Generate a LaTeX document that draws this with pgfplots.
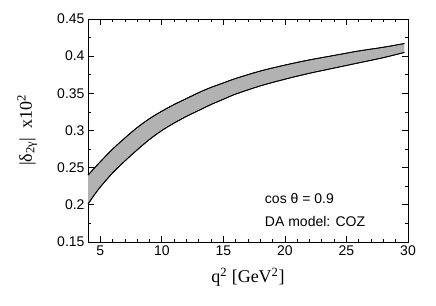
\documentclass[border=0pt]{standalone}
\usepackage{fontspec}
\setmainfont{Liberation Sans}
\newfontfamily\tnr{Liberation Serif}
\usepackage{pgfplots}
\pgfplotsset{compat=1.18}
\usepgfplotslibrary{fillbetween}
\begin{document}
\begin{tikzpicture}
\begin{axis}[
  scale only axis,
  width=320pt, height=223pt,
  xmin=4, xmax=30, ymin=0.15, ymax=0.45,
  xtick={5,10,15,20,25,30},
  ytick={0.15,0.2,0.25,0.3,0.35,0.4,0.45},
  minor x tick num=4,
  minor y tick num=1,
  tick align=inside,
  major tick length=6pt, minor tick length=3pt,
  tick style={black, line width=0.8pt},
  axis line style={line width=0.9pt},
  xticklabel style={/pgf/number format/fixed},
  yticklabel style={/pgf/number format/fixed, /pgf/number format/precision=2},
  /pgf/number format/assume math mode=true,
  tick label style={font=\fontsize{14}{16}\selectfont},
  xlabel={{\tnr q\textsuperscript{2} [GeV\textsuperscript{2}]}},
  ylabel={{\tnr |δ\textsubscript{2γ}|\ \ x10\textsuperscript{2}}},
  label style={font=\fontsize{18}{20}\selectfont},
  xlabel style={at={(rel axis cs:0.5,-0.158)}, anchor=center},
  ylabel style={at={(rel axis cs:-0.19,0.5)}, anchor=center},
  clip=false,
]
\addplot[name path=up, black, line width=0.8pt, smooth] coordinates {
(4,0.240) (5,0.258) (6,0.275) (7,0.290) (8,0.304) (9,0.316) (10,0.326)
(11,0.335) (12,0.343) (13,0.351) (14,0.358) (15,0.364) (16,0.370)
(18,0.380) (20,0.388) (22,0.395) (24,0.401) (26,0.407) (28,0.412) (29.7,0.417)};
\addplot[name path=lo, black, line width=0.8pt, smooth] coordinates {
(4,0.201) (4.5,0.213) (5,0.224) (6,0.243) (7,0.259) (8,0.274) (9,0.288) (10,0.300)
(11,0.310) (12,0.319) (13,0.327) (14,0.335) (15,0.342) (16,0.349) (18,0.360)
(20,0.369) (22,0.377) (24,0.384) (26,0.391) (28,0.398) (29.7,0.405)};
\addplot[fill=black!30, draw=none] fill between[of=up and lo];
\addplot[black, line width=0.8pt, smooth] coordinates {
(4,0.240) (5,0.258) (6,0.275) (7,0.290) (8,0.304) (9,0.316) (10,0.326)
(11,0.335) (12,0.343) (13,0.351) (14,0.358) (15,0.364) (16,0.370)
(18,0.380) (20,0.388) (22,0.395) (24,0.401) (26,0.407) (28,0.412) (29.7,0.417)};
\addplot[black, line width=0.8pt, smooth] coordinates {
(4,0.201) (4.5,0.213) (5,0.224) (6,0.243) (7,0.259) (8,0.274) (9,0.288) (10,0.300)
(11,0.310) (12,0.319) (13,0.327) (14,0.335) (15,0.342) (16,0.349) (18,0.360)
(20,0.369) (22,0.377) (24,0.384) (26,0.391) (28,0.398) (29.7,0.405)};
\node[anchor=west, font=\fontsize{14}{16}\selectfont] at (rel axis cs:0.542,0.193) {cos θ = 0.9};
\node[anchor=west, font=\fontsize{14}{16}\selectfont] at (rel axis cs:0.542,0.090) {DA model: COZ};
\coordinate (bl) at (rel axis cs:-0.275,-0.2825);
\coordinate (tr) at (rel axis cs:1.0875,1.0852);
\end{axis}
\path[use as bounding box] (bl) rectangle (tr);
\end{tikzpicture}
\end{document}
